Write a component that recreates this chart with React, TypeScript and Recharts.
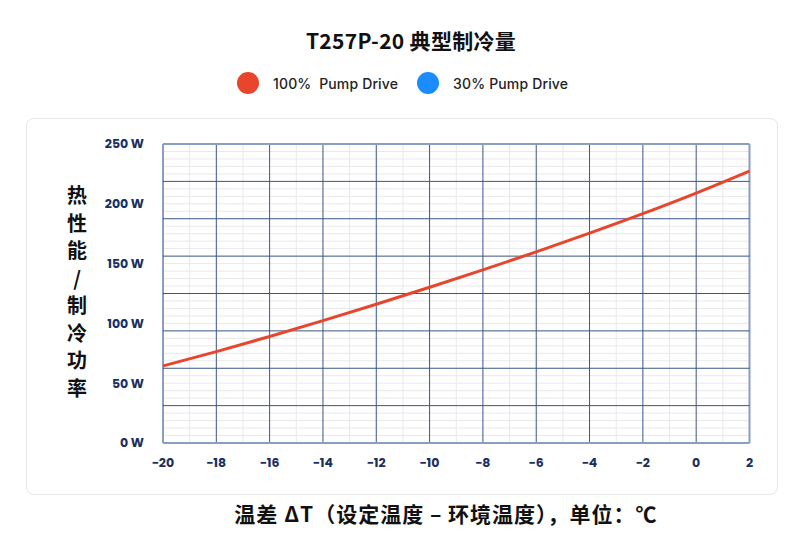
import React from "react";
import { LineChart, Line, XAxis, YAxis, ReferenceLine } from "recharts";

const deltaT = [-20, -18, -16, -14, -12, -10, -8, -6, -4, -2, 0, 2];
const pump100 = [64.4, 76.4, 89.1, 102.3, 116.0, 130.2, 144.7, 159.8, 175.5, 191.8, 209.0, 227.4];
const xTicks = [-20, -18, -16, -14, -12, -10, -8, -6, -4, -2, 0, 2];
const yTicks = [0, 50, 100, 150, 200, 250];
const majorY = [0, 31.25, 62.5, 93.75, 125, 156.25, 187.5, 218.75, 250];
const minorYStep = 6.25;
const minorX = [-19, -17, -15, -13, -11, -9, -7, -5, -3, -1, 1];
const legendItems = [
  { name: "100%  Pump Drive", color: "#e8452c" },
  { name: "30% Pump Drive", color: "#1a8cff" },
];
const title = "T257P-20 典型制冷量";
const yTitle = ["热", "性", "能", "/", "制", "冷", "功", "率"];
const xTitle = "温差 ΔT（设定温度 – 环境温度），单位：℃";

const data = deltaT.map((t, i) => ({ t, p100: pump100[i] }));
const minorY: number[] = [];
for (let v = 0; v <= 250; v += minorYStep) {
  if (!majorY.includes(v)) minorY.push(v);
}

const navy = "#1b2f5e";
const gridMajor = "#3a5587";
const gridEdge = "#8a9dc2";
const gridMinor = "#e9e9e9";
const font = "Poppins, Inter, 'Noto Sans CJK SC', sans-serif";

const fmtX = (v: number) => (v < 0 ? "\u2212" + Math.abs(v) : String(v));

export default function App() {
  return (
    <div style={{ position: "absolute", left: 0, top: 0, width: 792, height: 553, background: "#fff", fontFamily: font, overflow: "hidden" }}>
      <div style={{ position: "absolute", left: 0, width: 822, top: 25, textAlign: "center", fontSize: 21, fontWeight: 700, color: "#111", fontFamily: "'Noto Sans CJK SC', sans-serif", lineHeight: "30px", letterSpacing: 0.3 }}>
        {title}
      </div>
      <div style={{ position: "absolute", left: 237, top: 72, display: "flex", alignItems: "center", height: 22 }}>
        {legendItems.map((it, i) => (
          <div key={i} style={{ display: "flex", alignItems: "center", marginRight: i === 0 ? 19 : 0 }}>
            <div style={{ width: 22, height: 22, borderRadius: 11, background: it.color }} />
            <span style={{ marginLeft: 14, fontSize: 14, fontWeight: 500, color: "#222", whiteSpace: "pre", fontFamily: "Inter, sans-serif", letterSpacing: 0.15 }}>{it.name}</span>
          </div>
        ))}
      </div>
      <div style={{ position: "absolute", left: 26, top: 118, width: 752, height: 377, border: "1px solid #e6e6e6", borderRadius: 8, boxSizing: "border-box", background: "#fff" }} />
      <div style={{ position: "absolute", left: 62, top: 181, width: 30, textAlign: "center", fontSize: 20, fontWeight: 700, color: "#111", lineHeight: "27.5px", fontFamily: "'Noto Sans CJK SC', sans-serif" }}>
        {yTitle.map((c, i) => (
          <div key={i}>{c}</div>
        ))}
      </div>
      <div style={{ position: "absolute", left: 0, width: 892, top: 498, textAlign: "center", fontSize: 21, fontWeight: 700, color: "#111", lineHeight: "30px", letterSpacing: 1, fontFamily: "'Noto Sans CJK SC', sans-serif" }}>
        {xTitle}
      </div>
      <div style={{ position: "absolute", left: 0, top: 0 }}>
        <LineChart width={792} height={553} data={data} margin={{ top: 144, right: 42.5, bottom: 80, left: 103 }}>
          <XAxis
            dataKey="t"
            type="number"
            domain={[-20, 2]}
            ticks={xTicks}
            tickFormatter={fmtX}
            axisLine={false}
            tickLine={false}
            tickSize={0}
            tickMargin={15}
            height={30}
            tick={{ fill: navy, fontSize: 12.5, fontWeight: 700, fontFamily: font }}
          />
          <YAxis
            type="number"
            domain={[0, 250]}
            ticks={yTicks}
            tickFormatter={(v: number) => `${v} W`}
            axisLine={false}
            tickLine={false}
            tickSize={0}
            tickMargin={19}
            width={60}
            tick={{ fill: navy, fontSize: 12.5, fontWeight: 700, fontFamily: font }}
          />
          {minorX.map((v) => (
            <ReferenceLine key={"mx" + v} x={v} stroke={gridMinor} strokeWidth={1} />
          ))}
          {minorY.map((v) => (
            <ReferenceLine key={"my" + v} y={v} stroke={gridMinor} strokeWidth={1} />
          ))}
          {xTicks.map((v) => (
            <ReferenceLine key={"Mx" + v} x={v} stroke={v === -20 || v === 2 ? gridEdge : gridMajor} strokeWidth={v === -20 || v === 2 ? 2 : 1} />
          ))}
          {majorY.map((v) => (
            <ReferenceLine key={"My" + v} y={v} stroke={v === 0 || v === 250 ? gridEdge : gridMajor} strokeWidth={v === 0 || v === 250 ? 2 : 1} />
          ))}
          <Line type="monotone" dataKey="p100" stroke="#e8452c" strokeWidth={3} dot={false} isAnimationActive={false} />
        </LineChart>
      </div>
    </div>
  );
}
